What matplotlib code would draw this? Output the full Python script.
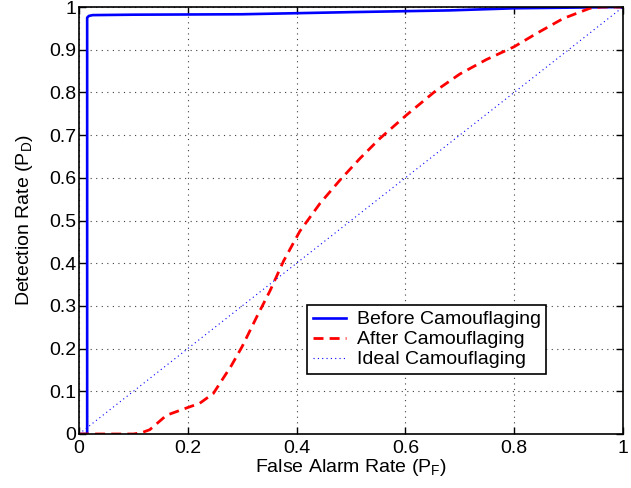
import matplotlib
matplotlib.use("Agg")
import matplotlib.pyplot as plt
import numpy as np

plt.rcParams['font.family'] = ['Liberation Sans', 'DejaVu Sans']
plt.rcParams['mathtext.default'] = 'regular'

before_x = [0.0, 0.015, 0.015, 0.018, 0.025, 0.1, 0.3, 0.5, 0.68, 0.8, 1.0]
before_y = [0.0, 0.0, 0.975, 0.979, 0.981, 0.982, 0.983, 0.988, 0.992, 0.997, 1.0]

after_x = [0.0, 0.05, 0.1, 0.115, 0.13, 0.161, 0.2, 0.222, 0.247, 0.28, 0.3, 0.327, 0.351,
           0.376, 0.406, 0.443, 0.48, 0.517, 0.553, 0.602, 0.657, 0.70, 0.749, 0.80,
           0.841, 0.89, 0.939, 0.96, 1.0]
after_y = [0.0, 0.0, 0.0, 0.003, 0.01, 0.044, 0.062, 0.072, 0.095, 0.16, 0.205, 0.275, 0.335,
           0.405, 0.475, 0.54, 0.595, 0.646, 0.692, 0.747, 0.805, 0.843, 0.877, 0.907,
           0.938, 0.973, 0.997, 1.0, 1.0]

ideal_x = [0.0, 1.0]
ideal_y = [0.0, 1.0]

fig = plt.figure(figsize=(6.31, 4.88), dpi=100)
ax = fig.add_axes([79/631, 1-434/488, 544/631, 427/488])

ax.plot(before_x, before_y, color='#0000ff', lw=1.9, label='Before Camouflaging')
ax.plot(after_x, after_y, color='#ff0000', lw=2, ls=(0, (3.6, 2.2)), label='After Camouflaging')
ax.plot(ideal_x, ideal_y, color='#0000ff', lw=0.8, ls=(0, (1, 2.9)), label='Ideal Camouflaging')

ax.set_xlim(0, 1)
ax.set_ylim(0, 1)
ax.set_xticks(np.arange(0, 1.01, 0.2))
ax.set_yticks(np.arange(0, 1.01, 0.1))
ax.set_xticklabels(['0', '0.2', '0.4', '0.6', '0.8', '1'])
ax.set_yticklabels(['0', '0.1', '0.2', '0.3', '0.4', '0.5', '0.6', '0.7', '0.8', '0.9', '1'])
ax.tick_params(direction='in', top=True, right=True, labelsize=14, length=5, width=1)
ax.tick_params(axis='y', pad=2)
ax.tick_params(axis='x', pad=4)
ax.grid(True, color='#404040', ls=(0, (1, 4)), lw=0.8)
for s in ax.spines.values():
    s.set_linewidth(1.2)

ax.set_xlabel('False Alarm Rate (P$_F$)', fontsize=14, labelpad=0)
ax.set_ylabel('Detection Rate (P$_D$)', fontsize=14, labelpad=10)

leg = ax.legend(loc='upper left', bbox_to_anchor=(0.419, 0.302),
                fontsize=14, frameon=True, fancybox=False, edgecolor='black',
                borderaxespad=0, handlelength=1.7, handletextpad=0.55,
                labelspacing=0.12, borderpad=0.3)
leg.get_frame().set_linewidth(1.2)
leg.get_frame().set_alpha(1)

fig.savefig('out.png', dpi=100)
